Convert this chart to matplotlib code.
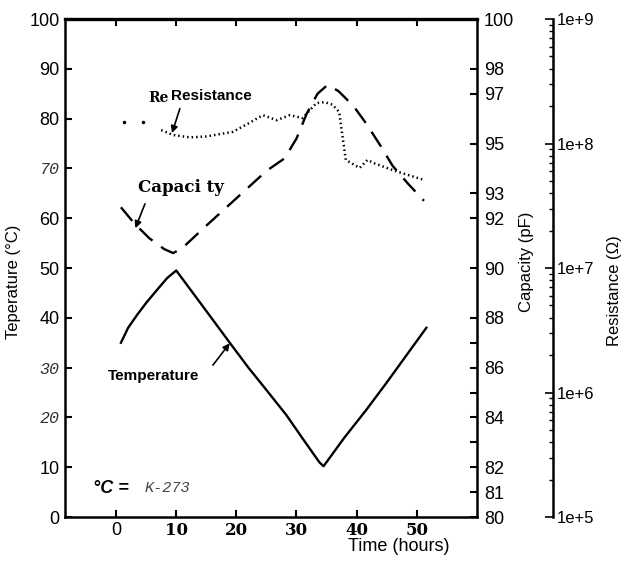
import matplotlib
matplotlib.use("Agg")
import matplotlib.pyplot as plt
from matplotlib.ticker import FixedLocator, LogLocator, NullFormatter

plt.rcParams['font.family'] = ['Liberation Sans', 'DejaVu Sans']

# Temperature (degC) vs time (hours)
temp_t = [0.8, 2, 3.5, 5, 6.8, 8.5, 10, 14, 18.9, 22, 25, 28.3, 31, 33.8, 34.5, 38, 41.6, 45, 47.1, 51.6]
temp_v = [35, 38, 40.6, 43, 45.6, 48, 49.5, 43, 35, 30, 25.5, 20.5, 15.8, 11, 10.2, 16, 21.5, 27, 30.5, 38]

# Capacity (pF) vs time
cap_t = [0.8, 3, 5.5, 8, 9.5, 11, 15, 20, 25, 28, 30, 31.7, 33.5, 35.2, 37, 39.5, 41.6, 44, 46, 48.5, 51.2]
cap_v = [92.44, 91.8, 91.2, 90.76, 90.6, 90.8, 91.7, 92.8, 93.9, 94.4, 95.2, 96.2, 97.0, 97.36, 97.1, 96.5, 95.8, 94.9, 94.1, 93.4, 92.7]

# Resistance (ohm) vs time
res_t = [7.5, 9.5, 12.3, 15, 19.4, 22, 24.4, 26.7, 28.9, 31, 33.3, 34.7, 36, 37.1, 37.7, 38.2, 40.5, 41.8, 43, 45.9, 48.5, 51.2]
res_v = [1.28e8, 1.17e8, 1.12e8, 1.14e8, 1.24e8, 1.45e8, 1.69e8, 1.54e8, 1.69e8, 1.60e8, 2.11e8, 2.15e8,
         2.05e8, 1.79e8, 1.10e8, 7.38e7, 6.37e7, 7.38e7, 6.92e7, 6.14e7, 5.60e7, 5.10e7]
res_dots_t = [1.3, 4.5]
res_dots_v = [1.49e8, 1.49e8]

temp_ticks = [0, 10, 20, 30, 40, 50, 60, 70, 80, 90, 100]
italic_temp = [20, 30, 70]
time_ticks = [0, 10, 20, 30, 40, 50]
cap_ticks = [100, 98, 97, 95, 93, 92, 90, 88, 87, 86, 85, 84, 83, 82, 81, 80]
cap_labels = [100, 98, 97, 95, 93, 92, 90, 88, 86, 84, 82, 81, 80]
res_ticks = [1e5, 1e6, 1e7, 1e8, 1e9]

fig = plt.figure(figsize=(6.25, 5.61), dpi=100)
ax = fig.add_axes([0.104, 0.0784, 0.659, 0.8877])
ax_cap = ax.twinx()
ax_res = ax.twinx()

ax.plot(temp_t, temp_v, color='black', lw=1.7)
ax_cap.plot(cap_t, cap_v, color='black', lw=1.7, dashes=(7.5, 4.5))
ax_res.plot(res_t, res_v, color='black', lw=1.8, linestyle=(0, (0.6, 1.2)))
ax_res.plot(res_dots_t, res_dots_v, 'k.', ms=3)

# main axis
ax.set_xlim(-8.5, 60)
ax.set_ylim(0, 100)
ax.set_xticks(time_ticks)
ax.set_yticks(temp_ticks)
ax.tick_params(axis='both', direction='in', length=5, width=1.5, top=True, labelsize=13)
ax.tick_params(axis='y', pad=4)
for s in ['left', 'bottom', 'top']:
    ax.spines[s].set_linewidth(1.8)
ax.spines['top'].set_linewidth(2.4)
ax.spines['right'].set_visible(False)

ax.set_xticklabels([str(t) for t in time_ticks])
for lab, t in zip(ax.get_xticklabels(), time_ticks):
    if t != 0:
        lab.set_fontfamily('DejaVu Serif')
        lab.set_fontweight('bold')
        lab.set_fontsize(12)
ax.set_yticklabels([str(t) for t in temp_ticks])
for lab, t in zip(ax.get_yticklabels(), temp_ticks):
    if t in italic_temp:
        lab.set_fontfamily('Liberation Mono')
        lab.set_fontstyle('italic')
        lab.set_fontsize(12)
        lab.set_color('#333333')

ax.set_xlabel('Time (hours)', fontsize=13)
ax.xaxis.set_label_coords(0.81, -0.042)
fig.text(14 / 625, 1 - 282 / 561, 'Teperature (°C)', rotation=90, ha='center', va='center', fontsize=12)

# capacity axis
ax_cap.set_ylim(80, 100)
ax_cap.yaxis.set_major_locator(FixedLocator(cap_ticks))
ax_cap.set_yticklabels([str(c) if c in cap_labels else '' for c in cap_ticks])
ax_cap.tick_params(axis='y', direction='in', length=5, width=1.5, labelsize=13, pad=5)
for s in ['left', 'bottom', 'top']:
    ax_cap.spines[s].set_visible(False)
ax_cap.spines['right'].set_linewidth(1.8)
fig.text(527 / 625, 1 - 262 / 561, 'Capacity (pF)', rotation=90, ha='center', va='center', fontsize=12)

# resistance axis
ax_res.set_yscale('log')
ax_res.set_ylim(1e5, 1e9)
ax_res.spines['right'].set_position(('axes', 1.184))
for s in ['left', 'bottom', 'top']:
    ax_res.spines[s].set_visible(False)
ax_res.spines['right'].set_linewidth(1.8)
ax_res.yaxis.set_major_locator(FixedLocator(res_ticks))
ax_res.set_yticklabels(['1e+5', '1e+6', '1e+7', '1e+8', '1e+9'])
ax_res.yaxis.set_minor_locator(LogLocator(base=10, subs=range(2, 10)))
ax_res.yaxis.set_minor_formatter(NullFormatter())
ax_res.tick_params(axis='y', which='major', direction='in', length=6, width=1.2, labelsize=12, pad=3)
ax_res.tick_params(axis='y', which='minor', direction='in', length=3, width=1.0)
fig.text(615 / 625, 1 - 291 / 561, 'Resistance (Ω)', rotation=90, ha='center', va='center', fontsize=12)

# annotations
arrow = dict(arrowstyle='-|>', color='black', lw=1.2, mutation_scale=10, shrinkA=0, shrinkB=0)
ax.text(5.4, 84.1, 'Re', fontfamily='DejaVu Serif', fontweight='bold', fontsize=10, va='center')
ax.text(9.1, 84.6, 'Resistance', fontweight='bold', fontsize=11, va='center')
ax.annotate('', xy=(9.3, 77.1), xytext=(10.6, 82), arrowprops=arrow)
ax.text(3.6, 66.1, 'Capaci ty', fontfamily='DejaVu Serif', fontweight='bold', fontsize=12, va='center')
ax.annotate('', xy=(3.2, 58), xytext=(4.8, 62.9), arrowprops=arrow)
ax.text(-1.3, 28.3, 'Temperature', fontweight='bold', fontsize=11, va='center')
ax.annotate('', xy=(18.9, 34.9), xytext=(16.1, 30.5), arrowprops=arrow)
ax.text(-3.8, 5.8, '°C =', fontweight='bold', fontstyle='italic', fontsize=13, va='center')
ax.text(4.8, 5.8, 'K-273', fontfamily='Liberation Mono', fontstyle='italic', fontsize=11, color='#444444', va='center')

fig.savefig('out.png', dpi=100)
